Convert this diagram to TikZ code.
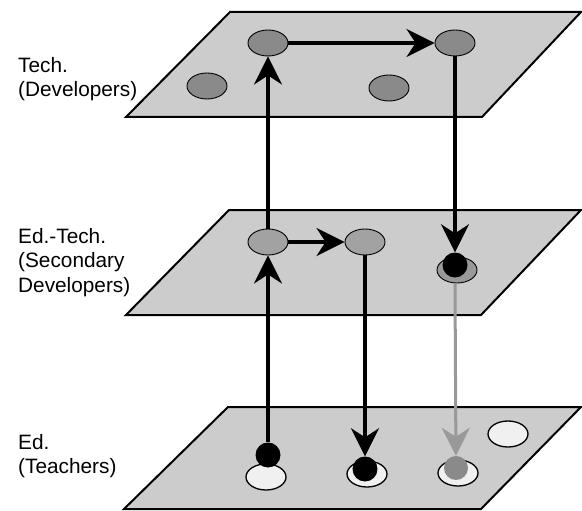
\documentclass[tikz,border=0pt]{standalone}
\usepackage{fontspec}
\setmainfont{Liberation Sans}
\usetikzlibrary{shapes.geometric,arrows.meta}
\definecolor{planegray}{HTML}{CCCCCC}
\definecolor{topgray}{HTML}{8A8A8A}
\definecolor{midgray}{HTML}{A2A2A2}
\definecolor{lightfill}{HTML}{F0F0F0}
\definecolor{arrgray}{HTML}{999999}
\tikzset{
  plane/.style={draw=black, fill=planegray, line width=2pt, line join=miter},
  oval/.style={ellipse, draw=black, line width=0.9pt, minimum width=40pt, minimum height=26pt, inner sep=0pt},
  topoval/.style={oval, fill=topgray},
  midoval/.style={oval, fill=midgray},
  lowoval/.style={oval, fill=lightfill, line width=1.3pt},
  dot/.style={circle, fill=black, minimum size=25pt, inner sep=0pt},
  graydot/.style={circle, fill=topgray, minimum size=24pt, inner sep=0pt},
  arr/.style={line width=3.8pt, -{Stealth[length=28pt, width=28pt, inset=9pt]}},
  grayarr/.style={draw=arrgray, line width=3pt, -{Stealth[length=28pt, width=28pt, inset=9pt]}},
  lbl/.style={anchor=north west, inner sep=0pt, align=left, font=\fontsize{20.8}{24.5}\selectfont}
}
\begin{document}
\begin{tikzpicture}[x=1pt, y=-1pt]
\useasboundingbox (0,0) rectangle (582,511);
% planes
\draw[plane] (126,117) -- (482,117) -- (581,12) -- (230,12) -- cycle;
\draw[plane] (126,315) -- (481,315) -- (581,210) -- (229,210) -- cycle;
\draw[plane] (124,509) -- (481,509) -- (581,407) -- (228,407) -- cycle;
% labels
\node[lbl] (l1) at (18,57) {Tech.\\(Developers)};
\node[lbl] (l2) at (18,228) {Ed.-Tech.\\(Secondary\\Developers)};
\node[lbl] (l3) at (18,434) {Ed.\\(Teachers)};
% top plane nodes
\node[topoval] (t1) at (268,43) {};
\node[topoval] (t2) at (455,43) {};
\node[topoval] (t3) at (207,86) {};
\node[topoval] (t4) at (389,88) {};
% middle plane nodes
\node[midoval] (m1) at (268,242) {};
\node[midoval] (m2) at (365,242) {};
\node[oval, fill=arrgray] (m3) at (457,270) {};
\node[dot] (mc3) at (455,265) {};
% bottom plane nodes
\node[lowoval] (b1) at (266,477) {};
\node[dot] (bc1) at (268,455) {};
\node[lowoval] (b2) at (367,474) {};
\node[dot] (bc2) at (365,469) {};
\node[lowoval] (b3) at (458,473) {};
\node[graydot] (bc3) at (456,468) {};
\node[lowoval] (b4) at (508,434) {};
% connectors
\draw[arr] (m1) -- (t1);
\draw[arr] (t1) -- (t2);
\draw[arr] (t2) -- (mc3);
\draw[arr] (bc1) -- (m1);
\draw[arr] (m1) -- (m2);
\draw[arr] (m2) -- (bc2);
\draw[grayarr] (m3.south -| mc3) -- (bc3);
\end{tikzpicture}
\end{document}
